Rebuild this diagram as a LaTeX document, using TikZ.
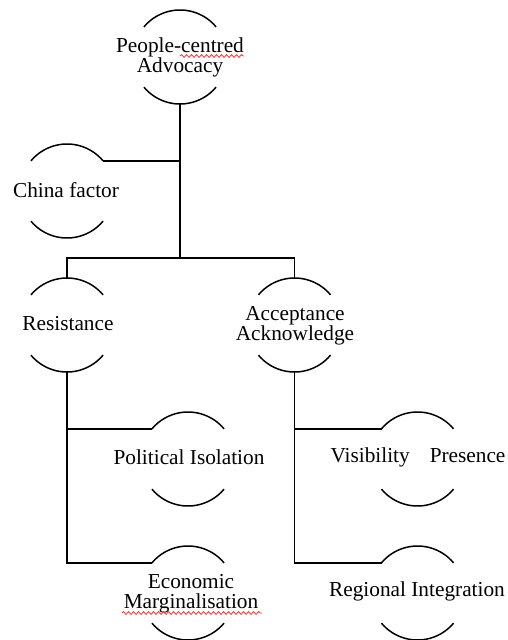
\documentclass[tikz,border=0pt]{standalone}
\usepackage{fontspec}
\setmainfont{Liberation Serif}
\usetikzlibrary{decorations.pathmorphing}
\begin{document}
\begin{tikzpicture}[x=1pt,y=1pt,
  hub/.style={circle,minimum size=94pt,inner sep=0pt,outer sep=0pt},
  lbl/.style={align=center,inner sep=0pt,font=\fontsize{21.3}{20}\selectfont},
  arcline/.style={line width=1.5pt},
  conn/.style={line width=1.7pt},
  spell/.style={red!80,line width=0.8pt,decorate,decoration={snake,segment length=5pt,amplitude=1.4pt}}]
\useasboundingbox (0,0) rectangle (507,-640);
\newcommand{\arcpair}[1]{%
  \draw[arcline] (#1.40) arc[start angle=40,end angle=140,radius=47pt];
  \draw[arcline] (#1.220) arc[start angle=220,end angle=320,radius=47pt];}
% hubs
\node[hub] (top) at (180,-57) {};
\node[hub] (chi) at (67,-191) {};
\node[hub] (res) at (67,-325) {};
\node[hub] (acc) at (294.5,-325) {};
\node[hub] (pol) at (188,-459) {};
\node[hub] (vis) at (417.5,-459) {};
\node[hub] (eco) at (188,-593) {};
\node[hub] (reg) at (417.5,-593) {};
\foreach \n in {top,chi,res,acc,pol,vis,eco,reg} {\arcpair{\n}}
% labels
\node[lbl] (topt) at (180,-57) {People-centred\\Advocacy};
\node[lbl] (chit) at (66,-190.5) {China factor};
\node[lbl] (rest) at (68,-323.5) {Resistance};
\node[lbl] (acct) at (295,-326) {Acceptance\\Acknowledge};
\node[lbl] (polt) at (189,-457.5) {Political Isolation};
\node[lbl] (vist) at (418,-457.5) {Visibility\hspace{20pt}Presence};
\node[lbl] (ecot) at (191,-594) {Economic\\Marginalisation};
\node[lbl] (regt) at (417,-591) {Regional Integration};
% connectors
\coordinate (j1) at (180,-258);
\draw[conn] (top.south) -- (j1);
\draw[conn] (chi.40) -- (chi.40 -| top.south);
\draw[conn] (j1) -| (res.north);
\draw[conn] (j1) -| (acc.north);
\draw[conn] (res.south) |- (pol.140);
\draw[conn] (res.south) |- (eco.140);
\draw[conn] (acc.south) |- (vis.140);
\draw[conn] (acc.south) |- (reg.140);
% spell-check underlines
\draw[spell] (180,-56) -- (244,-56);
\draw[spell] (122,-613) -- (262,-613);
\end{tikzpicture}
\end{document}
